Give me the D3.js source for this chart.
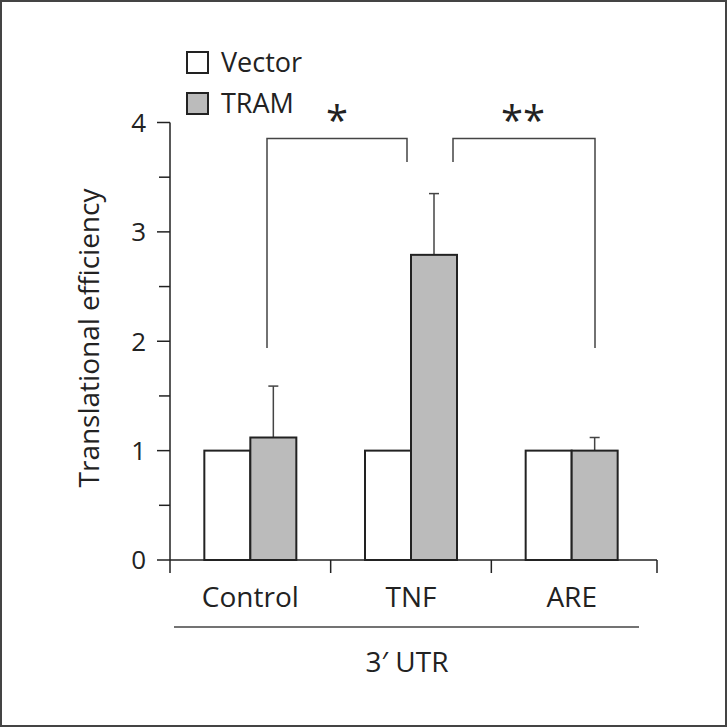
<!DOCTYPE html>
<html><head><meta charset="utf-8">
<script src="https://cdn.jsdelivr.net/npm/d3@7"></script>
<style>body{margin:0;background:#fff}svg{display:block}text{font-family:"Open Sans",sans-serif;fill:#222}</style>
</head><body>
<script>
const categories = ["Control", "TNF", "ARE"];
const seriesNames = ["Vector", "TRAM"];
const vectorValues = [1.0, 1.0, 1.0];
const tramValues = [1.12, 2.79, 1.0];
const tramErrors = [0.47, 0.56, 0.12];
const yTicks = [0, 1, 2, 3, 4];
const yMinorTicks = [0.5, 1.5, 2.5, 3.5];
const yLabel = "Translational efficiency";
const xGroupLabel = "3\u2032 UTR";
const brackets = [{from: 0, to: 1, label: "*"}, {from: 1, to: 2, label: "**"}];

const W = 727, H = 727;
const svg = d3.select("body").append("svg").attr("width", W).attr("height", H);
svg.append("rect").attr("x", 1).attr("y", 1).attr("width", W - 2).attr("height", H - 2)
  .attr("fill", "#fff").attr("stroke", "#444").attr("stroke-width", 2);

const x = d3.scaleBand().domain(categories).range([170, 652]);
const xs = d3.scaleBand().domain(seriesNames).range([0, 92]);
const y = d3.scaleLinear().domain([0, 4]).range([560, 122.5]);
const colors = {Vector: "#ffffff", TRAM: "#bbbbbb"};
const ink = "#222";

// y axis
const yAxis = svg.append("g").attr("transform", "translate(170,0)");
yAxis.append("line").attr("y1", y(0)).attr("y2", y(4)).attr("stroke", ink).attr("stroke-width", 1.5);
yAxis.selectAll(".maj").data(yTicks).join("line").attr("class","maj").attr("x1", -13).attr("x2", 0)
  .attr("y1", d => y(d)).attr("y2", d => y(d)).attr("stroke", ink).attr("stroke-width", 1.5);
yAxis.selectAll(".min").data(yMinorTicks).join("line").attr("class","min").attr("x1", -11).attr("x2", 0)
  .attr("y1", d => y(d)).attr("y2", d => y(d)).attr("stroke", ink).attr("stroke-width", 1.5);
yAxis.selectAll(".tl").data(yTicks).join("text").attr("class","tl").attr("x", -24).attr("y", d => y(d))
  .attr("dy", "0.36em").attr("text-anchor", "end").attr("font-size", 26).text(d => d);
svg.append("text").attr("transform", "translate(99,338) rotate(-90)").attr("text-anchor", "middle")
  .attr("font-size", 28).text(yLabel);

// x axis
const xStart = 170, xEnd = 657;
svg.append("line").attr("x1", xStart).attr("x2", xEnd).attr("y1", y(0)).attr("y2", y(0)).attr("stroke", ink).attr("stroke-width", 1.5);
const bounds = categories.map(c => x(c)).concat([xEnd]);
svg.selectAll(".xt").data(bounds).join("line").attr("class","xt").attr("x1", d => d).attr("x2", d => d)
  .attr("y1", y(0)).attr("y2", y(0) + 13).attr("stroke", ink).attr("stroke-width", 1.5);
svg.selectAll(".xl").data(categories).join("text").attr("class","xl")
  .attr("x", d => x(d) + x.bandwidth() / 2).attr("y", 607).attr("text-anchor", "middle")
  .attr("font-size", 28).text(d => d);
svg.append("line").attr("x1", 174).attr("x2", 639).attr("y1", 627).attr("y2", 627).attr("stroke", "#444").attr("stroke-width", 1.5);
svg.append("text").attr("x", 407).attr("y", 672).attr("text-anchor", "middle").attr("font-size", 28).text(xGroupLabel);

// bars
const data = categories.flatMap((c, i) => [
  {c, s: "Vector", v: vectorValues[i], e: 0},
  {c, s: "TRAM", v: tramValues[i], e: tramErrors[i]}
]);
const barX = d => x(d.c) + x.bandwidth() / 2 - 46 + xs(d.s);
const errs = data.filter(d => d.e > 0);
svg.selectAll(".err").data(errs).join("line").attr("class","err")
  .attr("x1", d => barX(d) + xs.bandwidth() / 2).attr("x2", d => barX(d) + xs.bandwidth() / 2)
  .attr("y1", d => y(d.v)).attr("y2", d => y(d.v + d.e)).attr("stroke", "#444").attr("stroke-width", 1.5);
svg.selectAll(".cap").data(errs).join("line").attr("class","cap")
  .attr("x1", d => barX(d) + xs.bandwidth() / 2 - 5).attr("x2", d => barX(d) + xs.bandwidth() / 2 + 5)
  .attr("y1", d => y(d.v + d.e)).attr("y2", d => y(d.v + d.e)).attr("stroke", "#444").attr("stroke-width", 1.5);
svg.selectAll(".bar").data(data).join("rect").attr("class","bar")
  .attr("x", barX).attr("width", xs.bandwidth())
  .attr("y", d => y(d.v)).attr("height", d => y(0) - y(d.v))
  .attr("fill", d => colors[d.s]).attr("stroke", ink).attr("stroke-width", 2);

// significance brackets
const bTop = 138.5, bLegEnd = 162, bLow = 348;
const bx = [267, 407, 453, 595];
const bg = svg.append("g").attr("fill", "none").attr("stroke", "#444").attr("stroke-width", 1.5);
bg.append("path").attr("d", `M${bx[0]},${bLow}V${bTop}H${bx[1]}V${bLegEnd}`);
bg.append("path").attr("d", `M${bx[2]},${bLegEnd}V${bTop}H${bx[3]}V${bLow}`);
svg.selectAll(".star").data(brackets).join("text").attr("class","star")
  .attr("x", (d, i) => i === 0 ? 337 : 523).attr("y", 135).attr("text-anchor", "middle")
  .attr("font-size", 40).text(d => d.label);

// legend
const lg = svg.selectAll(".lg").data(seriesNames).join("g").attr("class","lg")
  .attr("transform", (d, i) => `translate(187,${52 + i * 41})`);
lg.append("rect").attr("width", 21).attr("height", 21).attr("fill", d => colors[d]).attr("stroke", ink).attr("stroke-width", 2);
lg.append("text").attr("x", 34).attr("y", 10.5).attr("dy", "0.36em").attr("font-size", 27).text(d => d);
</script>
</body></html>
